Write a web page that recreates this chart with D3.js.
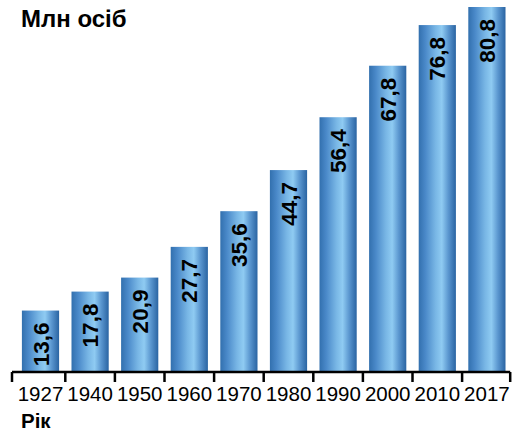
<!DOCTYPE html>
<html>
<head>
<meta charset="utf-8">
<script src="https://cdn.jsdelivr.net/npm/d3@7"></script>
<style>
  html, body { margin: 0; padding: 0; background: #fff; }
  svg { display: block; }
  svg text { font-family: "Liberation Sans", Arial, sans-serif; }
</style>
</head>
<body>
<svg id="chart" width="516" height="431"></svg>
<script>
// Population of Ukraine, million people, by year
const years = ["1927", "1940", "1950", "1960", "1970", "1980", "1990", "2000", "2010", "2017"];
const population = [13.6, 17.8, 20.9, 27.7, 35.6, 44.7, 56.4, 67.8, 76.8, 80.8];
const valueLabels = ["13,6", "17,8", "20,9", "27,7", "35,6", "44,7", "56,4", "67,8", "76,8", "80,8"];
const yTitle = "Млн осіб";
const xTitle = "Рік";

const FONT = "'Liberation Sans', Arial, sans-serif";
const svg = d3.select("#chart");
const baseY = 372;

const x = d3.scaleBand()
  .domain(years)
  .range([15.7, 511.7])
  .paddingInner(0.25)
  .paddingOuter(0.125);

const y = d3.scaleLinear()
  .domain([0, 80.8])
  .range([baseY, 7]);

// Cylinder-like horizontal shading for the bars
const defs = svg.append("defs");
const grad = defs.append("linearGradient")
  .attr("id", "barShade")
  .attr("x1", "0%").attr("x2", "100%")
  .attr("y1", "0%").attr("y2", "0%");
[
  [0, "#3270ae"],
  [0.18, "#4a89c9"],
  [0.45, "#78b6e5"],
  [0.62, "#8fcbf2"],
  [0.8, "#5a96cf"],
  [1, "#2a64a2"]
].forEach(([o, c]) => grad.append("stop").attr("offset", o).attr("stop-color", c));

svg.append("g")
  .selectAll("rect")
  .data(years)
  .join("rect")
  .attr("x", d => x(d))
  .attr("width", x.bandwidth())
  .attr("y", (d, i) => y(population[i]))
  .attr("height", (d, i) => baseY - y(population[i]))
  .attr("fill", "url(#barShade)");

// Rotated value labels inside the bars
svg.append("g")
  .selectAll("text")
  .data(years)
  .join("text")
  .attr("transform", (d, i) => `translate(${x(d) + x.bandwidth() / 2 + 8},${y(population[i]) + 12}) rotate(-90)`)
  .attr("text-anchor", "end")
  .style("font-family", FONT)
  .style("font-size", "22.5px")
  .style("font-weight", "bold")
  .attr("fill", "#000")
  .text((d, i) => valueLabels[i]);

// Category axis
const axis = d3.axisBottom(x).tickSize(0).tickPadding(14);
const axisG = svg.append("g")
  .attr("transform", `translate(0,${baseY})`)
  .call(axis);
axisG.select(".domain").remove();
axisG.selectAll("text")
  .style("font-family", FONT)
  .style("font-size", "20.5px")
  .attr("fill", "#000")
  .attr("dy", "0.71em");

const step = x.step();
const gap = step - x.bandwidth();
const edges = years.map((d, i) => i === 0 ? 12 : x(d) - gap / 2);
edges.push(x(years[years.length - 1]) + x.bandwidth() + gap / 2 - 1.5);

svg.append("line")
  .attr("x1", 12).attr("x2", edges[edges.length - 1])
  .attr("y1", baseY).attr("y2", baseY)
  .attr("stroke", "#000").attr("stroke-width", 2.5);

svg.append("g")
  .selectAll("line")
  .data(edges)
  .join("line")
  .attr("x1", d => d).attr("x2", d => d)
  .attr("y1", baseY).attr("y2", baseY + 10)
  .attr("stroke", "#000").attr("stroke-width", 2.5);

// Axis titles
svg.append("text")
  .attr("x", 21).attr("y", 27)
  .style("font-family", FONT)
  .style("font-size", "24px")
  .style("font-weight", "bold")
  .text(yTitle);

svg.append("text")
  .attr("x", 21).attr("y", 428)
  .style("font-family", FONT)
  .style("font-size", "20.5px")
  .style("font-weight", "bold")
  .text(xTitle);
</script>
</body>
</html>
